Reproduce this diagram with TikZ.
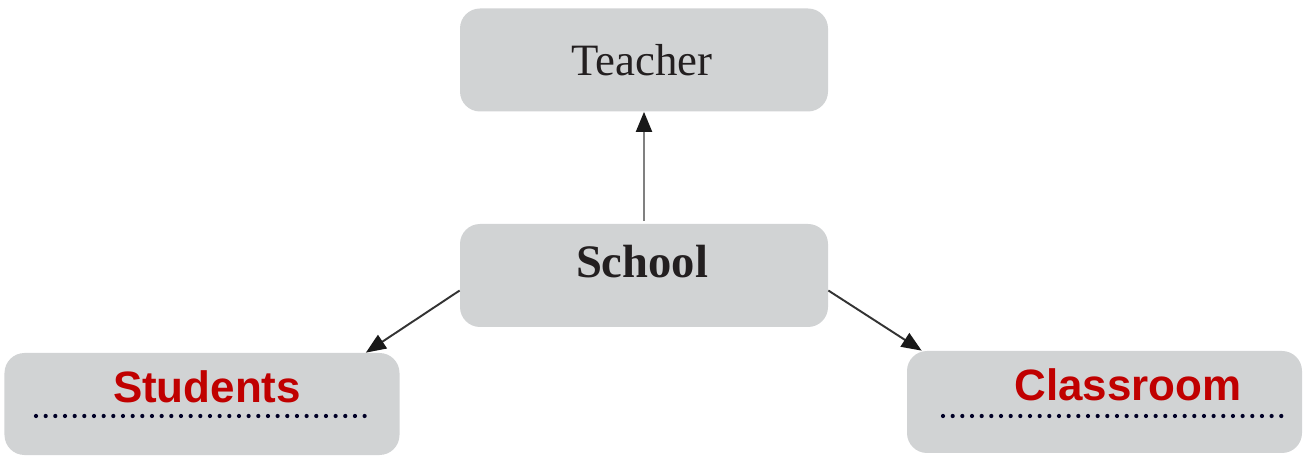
\documentclass[tikz,border=0pt]{standalone}
\usepackage{fontspec}
\setmainfont{Liberation Serif}
\newfontfamily\arialfont{Liberation Sans}
\usetikzlibrary{positioning,arrows.meta}
\definecolor{boxgray}{HTML}{D1D3D4}
\definecolor{darkred}{HTML}{C00000}
\definecolor{inkgray}{HTML}{231F20}

\begin{document}
\begin{tikzpicture}[
  box/.style={rectangle, rounded corners=0.4cm, fill=boxgray, minimum width=7.36cm, minimum height=2.06cm},
  wide/.style={box, minimum width=7.9cm, minimum height=2.04cm},
  plain/.style={font=\fontsize{25.5pt}{30pt}\selectfont, text=inkgray},
  redlabel/.style={font=\arialfont\bfseries\fontsize{25pt}{30pt}\selectfont, text=darkred},
  dotline/.style={line width=2.4pt, line cap=round, dash pattern=on 0pt off 5.5pt, draw=black!85!blue},
  direct/.style={-{Triangle[length=0.4cm, width=0.32cm, fill=black!90, color=black!90]}, line width=1.1pt}
]
\useasboundingbox (0,0) rectangle (26.12,9.12);

% Top - Teacher
\node[box] (Teacher) at (12.88,7.92) {};
\node[plain] (TeacherText) at (12.84,7.92) {Teacher};

% Middle - School
\node[box] (School) at (12.88,3.61) {};
\node[plain, font=\bfseries\fontsize{26.5pt}{30pt}\selectfont] (SchoolText) at (12.84,3.88) {School};

% Bottom left - Students
\node[wide] (Students) at (4.04,1.04) {};
\node[redlabel] (StudentsText) at (4.14,1.38) {Students};
\draw[dotline] (0.72,0.80) -- (7.46,0.80);

% Bottom right - Classroom
\node[wide] (Classroom) at (22.09,1.08) {};
\node[redlabel] (ClassroomText) at (22.56,1.42) {Classroom};
\draw[dotline] (18.86,0.80) -- (25.64,0.80);

% School -> others
\draw[direct, draw=black!50] ([yshift=0.05cm]School.north) -- (Teacher.south);
\draw[direct, draw=black!80] ([yshift=-0.3cm]School.west) -- ([xshift=-0.68cm]Students.north east);
\draw[direct, draw=black!80] ([yshift=-0.3cm]School.east) -- ([xshift=0.3cm]Classroom.north west);

\end{tikzpicture}
\end{document}
